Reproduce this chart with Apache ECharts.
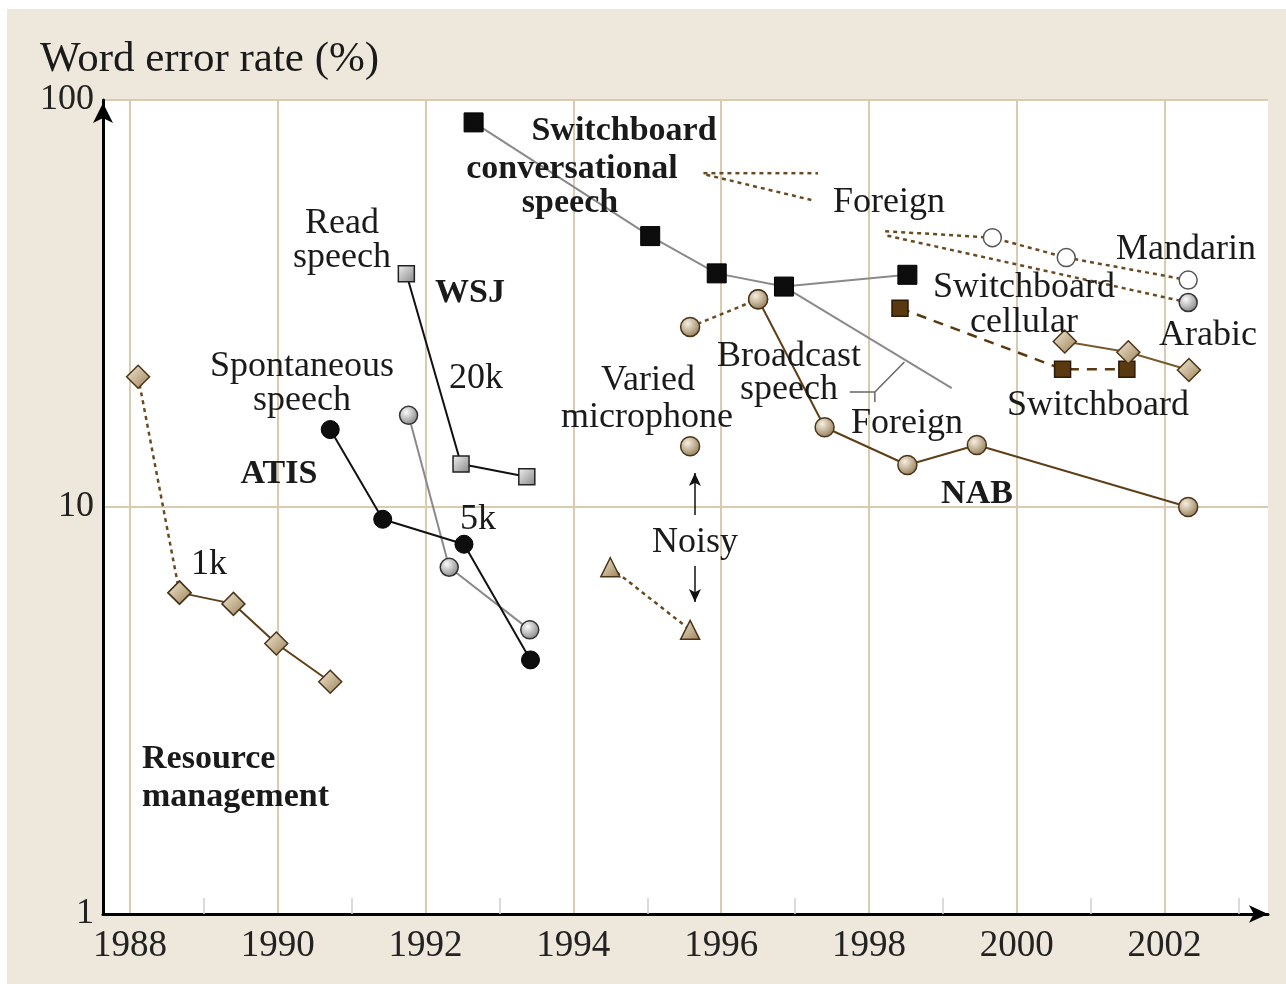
<!DOCTYPE html>
<html>
<head>
<meta charset="utf-8">
<title>Word error rate</title>
<script src="https://cdn.jsdelivr.net/npm/echarts@6.0.0/dist/echarts.min.js"></script>
<style>
html, body { margin: 0; padding: 0; background: #fff; }
#wrap { position: relative; width: 1286px; height: 984px; background: #fff; }
#main { position: absolute; left: 7px; top: 9px; width: 1279px; height: 975px; }
</style>
</head>
<body>
<div id="wrap"><div id="main"></div></div>
<script>
// axis ticks
var majorYears = [1988, 1990, 1992, 1994, 1996, 1998, 2000, 2002];
var minorYears = [1989, 1991, 1993, 1995, 1997, 1999, 2001, 2003];
var werTicks = [1, 10, 100];

// [year, word error rate %]
var resourceMgmt = [[1988.11, 20.9], [1988.67, 6.16], [1989.40, 5.78], [1989.98, 4.62], [1990.71, 3.72]];
var atis = [[1990.71, 15.5], [1991.42, 9.33], [1992.52, 8.10], [1993.42, 4.21]];
var wsjSpont = [[1991.77, 16.8], [1992.32, 7.11], [1993.41, 4.99]];
var wsjRead = [[1991.74, 37.4], [1992.48, 12.75], [1993.37, 11.87]];
var switchboard = [[1992.65, 88.1], [1995.04, 46.3], [1995.94, 37.5], [1996.85, 34.8], [1998.52, 37.2]];
var switchboardTrend = [[1996.85, 34.8], [1999.12, 19.6]];
var nab = [[1996.50, 32.4], [1997.40, 15.7], [1998.52, 12.68], [1999.46, 14.2], [2002.32, 10.0]];
var variedMic = [[1995.58, 27.7], [1996.50, 32.4]];
var noisyMic = [[1995.58, 14.1]];
var noisyTri = [[1994.50, 7.11], [1995.58, 4.99]];
var swCellular = [[1998.42, 30.8], [2000.62, 21.8], [2001.49, 21.8]];
var swForeign = [[2000.65, 25.5], [2001.51, 24.0], [2002.33, 21.7]];
var mandarin = [[1998.22, 47.6], [1999.67, 45.9], [2000.67, 41.0], [2002.32, 36.1]];
var arabic = [[1998.25, 46.4], [2002.32, 31.8]];
var foreignKeyA = [[1995.76, 66.1], [1997.31, 66.1]];
var foreignKeyB = [[1995.80, 65.5], [1997.22, 56.8]];

// leader lines of the annotations
var broadcastLeader = [[[1997.74, 19.17], [1998.08, 19.17]], [[1998.08, 19.17], [1998.08, 18.1]], [[1998.08, 19.17], [1998.48, 22.7]]];
var noisyArrows = [[[1995.645, 9.56], [1995.645, 12.12]], [[1995.645, 7.16], [1995.645, 5.84]]];

var FONT = '"Liberation Serif", "Times New Roman", serif';
var OX = 7, OY = 9; // offset of the chart div in the page

function tan() {
	return { type: 'linear', x: 0, y: 0, x2: 1, y2: 1,
		colorStops: [{ offset: 0, color: '#f4ecd9' }, { offset: 1, color: '#9a7e52' }] };
}
function ball(light, dark) {
	return { type: 'radial', x: 0.38, y: 0.34, r: 0.72,
		colorStops: [{ offset: 0, color: light }, { offset: 1, color: dark }] };
}

var MK = {
	tanDiamond: { symbol: 'diamond', symbolSize: 23, itemStyle: { color: tan(), borderColor: '#4b3519', borderWidth: 1.5 } },
	tanCircle: { symbol: 'circle', symbolSize: 19, itemStyle: { color: ball('#f6efe0', '#8f7650'), borderColor: '#4b3519', borderWidth: 1.5 } },
	tanTri: { symbol: 'triangle', symbolSize: 19, itemStyle: { color: tan(), borderColor: '#4b3519', borderWidth: 1.5 } },
	blackCircle: { symbol: 'circle', symbolSize: 18, itemStyle: { color: '#0e0e0e', borderColor: '#000', borderWidth: 1 } },
	grayCircle: { symbol: 'circle', symbolSize: 18, itemStyle: { color: ball('#fbfbfb', '#7d7d7d'), borderColor: '#333', borderWidth: 1.5 } },
	graySquare: { symbol: 'rect', symbolSize: 16, itemStyle: { color: { type: 'linear', x: 0, y: 0, x2: 1, y2: 1, colorStops: [{ offset: 0, color: '#f2f2f2' }, { offset: 1, color: '#858585' }] }, borderColor: '#222', borderWidth: 1.5 } },
	blackSquare: { symbol: 'rect', symbolSize: 19, itemStyle: { color: '#0d0d0d', borderColor: '#000', borderWidth: 1 } },
	brownSquare: { symbol: 'rect', symbolSize: 16, itemStyle: { color: '#5a3910', borderColor: '#2c1b06', borderWidth: 1.5 } },
	openCircle: { symbol: 'circle', symbolSize: 18, itemStyle: { color: '#fff', borderColor: '#555', borderWidth: 1.5 } }
};

var BROWN = '#6a4a22';
var dotted = { color: BROWN, width: 2.5, type: [4, 4] };
var dashed = { color: '#5a3910', width: 2.5, type: [10, 8] };
var brownSolid = { color: '#5e3f18', width: 2 };
var blackSolid = { color: '#111', width: 2 };
var graySolid = { color: '#8a8a8a', width: 2 };

function ser(data, mk, line, extra) {
	var s = {
		type: 'line', data: data, silent: true, animation: false,
		symbol: mk ? mk.symbol : 'none',
		symbolSize: mk ? mk.symbolSize : 0,
		itemStyle: mk ? mk.itemStyle : { color: '#000' },
		lineStyle: line || { width: 0, opacity: 0 },
		emphasis: { disabled: true }
	};
	if (extra) for (var k in extra) s[k] = extra[k];
	return s;
}
// first point without a marker
function noFirst(arr) {
	return arr.map(function (p, i) { return i === 0 ? { value: p, symbol: 'none' } : p; });
}

var series = [];
series.push(ser(foreignKeyA, null, dotted));
series.push(ser(foreignKeyB, null, dotted));
broadcastLeader.forEach(function (seg) { series.push(ser(seg, null, { color: '#666', width: 1.5 })); });
series.push(ser(noFirst(mandarin), MK.openCircle, dotted));
series.push(ser(noFirst(arabic), MK.grayCircle, dotted));
series.push(ser(resourceMgmt.slice(0, 2), MK.tanDiamond, dotted));
series.push(ser(variedMic, MK.tanCircle, dotted));
series.push(ser(noisyTri, MK.tanTri, dotted, {
	markLine: {
		silent: true, animation: false, symbol: ['none', 'arrow'], symbolSize: [9, 13],
		label: { show: false }, emphasis: { disabled: true },
		lineStyle: { color: '#111', width: 1.5, type: 'solid' },
		data: noisyArrows.map(function (a) { return [{ coord: a[0] }, { coord: a[1] }]; })
	}
}));
series.push(ser(noisyMic, MK.tanCircle, null));
series.push(ser(switchboardTrend, null, graySolid));
series.push(ser(switchboard, MK.blackSquare, graySolid));
series.push(ser(nab, MK.tanCircle, brownSolid));
series.push(ser(wsjRead, MK.graySquare, blackSolid));
series.push(ser(wsjSpont, MK.grayCircle, graySolid));
series.push(ser(atis, MK.blackCircle, blackSolid));
series.push(ser(resourceMgmt.slice(1), MK.tanDiamond, brownSolid));
series.push(ser(swCellular, MK.brownSquare, dashed));
series.push(ser(swForeign, MK.tanDiamond, { color: '#7a5a2c', width: 2 }));

// annotation text, page pixels: [text, x, y, bold, align]
var notes = [
	['Switchboard', 624, 131, true], ['conversational', 572, 169, true], ['speech', 570, 203, true],
	['WSJ', 470, 293, true], ['ATIS', 279, 474, true], ['NAB', 977, 494, true],
	['Resource', 142, 759, true, 'left'], ['management', 142, 797, true, 'left'],
	['Read', 342, 224], ['speech', 342, 258],
	['Spontaneous', 302, 367], ['speech', 302, 401],
	['20k', 476, 379], ['5k', 478, 520], ['1k', 209, 565],
	['Varied', 648, 381], ['microphone', 647, 418],
	['Broadcast', 789, 357], ['speech', 789, 390], ['Foreign', 907, 424],
	['Foreign', 889, 203], ['Noisy', 695, 543],
	['Mandarin', 1186, 250], ['Switchboard', 1024, 288], ['cellular', 1024, 323],
	['Arabic', 1208, 336], ['Switchboard', 1098, 406]
];
var graphics = notes.map(function (n) {
	return {
		type: 'text', x: n[1] - OX, y: n[2] - OY, silent: true, z: 100,
		style: { text: n[0], fill: '#1a1a1a', align: n[4] || 'center', verticalAlign: 'middle',
			font: (n[3] ? 'bold 34px ' : '36px ') + FONT }
	};
});
graphics.push({
	type: 'text', x: 40 - OX, y: 60 - OY, silent: true, z: 100,
	style: { text: 'Word error rate (%)', fill: '#1a1a1a', align: 'left', verticalAlign: 'middle', font: '43px ' + FONT }
});

var myChart = echarts.init(document.getElementById('main'));
var option = {
	backgroundColor: '#eee7db',
	animation: false,
	grid: { left: 103 - OX, right: 18, top: 100 - OY, bottom: 70, show: true, backgroundColor: '#fff', borderWidth: 0 },
	xAxis: [{
		type: 'value', min: 1987.635, max: 2003.40,
		axisLine: { show: true, onZero: false, symbol: ['none', 'arrow'], symbolSize: [13, 19], symbolOffset: [0, 0],
			lineStyle: { color: '#000', width: 3 } },
		axisTick: { show: false, customValues: majorYears },
		axisLabel: { customValues: majorYears, color: '#222', fontSize: 37, fontFamily: FONT, margin: 14,
			formatter: function (v) { return String(Math.round(v)); } },
		splitLine: { show: true, lineStyle: { color: '#d9cbb0', width: 2 } }
	}, {
		type: 'value', min: 1987.635, max: 2003.40, position: 'bottom',
		axisLine: { show: false, onZero: false },
		axisTick: { show: true, inside: true, length: 16, customValues: minorYears, lineStyle: { color: '#cfcfcf', width: 1.5 } },
		axisLabel: { show: false },
		splitLine: { show: false }
	}],
	yAxis: {
		type: 'log', logBase: 10, min: 1, max: 100,
		axisLine: { show: true, onZero: false, symbol: ['none', 'arrow'], symbolSize: [15, 20], symbolOffset: [0, -3],
			lineStyle: { color: '#000', width: 3 } },
		axisTick: { show: false },
		axisLabel: { color: '#222', fontSize: 36, fontFamily: FONT, margin: 9, showMinLabel: true, showMaxLabel: true,
			formatter: function (v) { return werTicks.indexOf(v) >= 0 ? String(v) : ''; } },
		splitLine: { show: true, lineStyle: { color: '#d9cbb0', width: 2 } }
	},
	graphic: graphics,
	series: series
};
myChart.setOption(option);
</script>
</body>
</html>
